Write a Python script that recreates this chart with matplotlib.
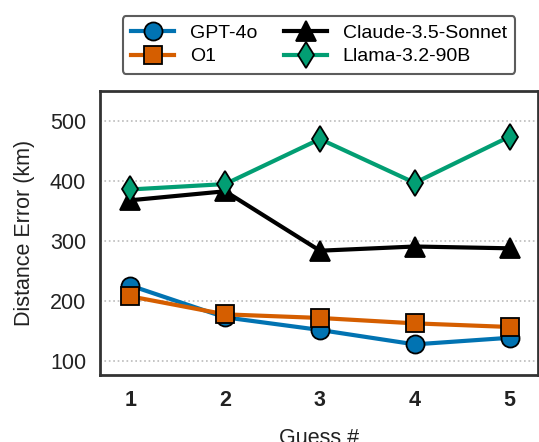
import numpy as np
import matplotlib
matplotlib.use("Agg")
import matplotlib.pyplot as plt

plt.rcParams['font.family'] = ['Liberation Sans', 'DejaVu Sans']

guesses = [1, 2, 3, 4, 5]
gpt4o = [226, 173, 152, 128, 139]
o1 = [208, 178, 172, 163, 157]
claude = [368, 383, 284, 291, 288]
llama = [386, 395, 470, 397, 474]

series = [
    ('GPT-4o', gpt4o, '#0173B2', 'o'),
    ('O1', o1, '#D55E00', 's'),
    ('Claude-3.5-Sonnet', claude, '#000000', '^'),
    ('Llama-3.2-90B', llama, '#029E73', 'd'),
]

fig = plt.figure(figsize=(5.39, 4.42), dpi=100)
ax = fig.add_axes([100/539, 1-375/442, 438/539, 284/442])

for name, vals, col, mk in series:
    ax.plot(guesses, vals, color=col, marker=mk, lw=3, ms=13 if mk != '^' else 14,
            markeredgecolor='black', markeredgewidth=1.3, label=name)

ax.set_xlim(0.68, 5.3)
ax.set_ylim(77, 550)
ax.set_xticks(guesses)
ax.set_yticks([100, 200, 300, 400, 500])
ax.tick_params(axis='both', length=0, labelsize=15.5, colors='#222222')
ax.tick_params(axis='x', pad=11)
ax.tick_params(axis='y', pad=10)
for t in ax.get_xticklabels():
    t.set_fontweight('bold')
ax.grid(axis='y', linestyle=':', color='#bbbbbb', lw=1.2)
for s in ax.spines.values():
    s.set_color('#333333')
    s.set_linewidth(2)

ax.set_xlabel('Guess #', fontsize=15.5, color='#222222', labelpad=12)
ax.set_ylabel('Distance Error (km)', fontsize=15.5, color='#222222', labelpad=11)

leg = ax.legend(ncol=2, loc='lower center', bbox_to_anchor=(0.5, 1.025), fontsize=14,
                frameon=True, edgecolor='#333333', fancybox=True, columnspacing=1.4,
                handlelength=2.2, borderpad=0.45, labelspacing=0.3)
leg.get_frame().set_linewidth(1.5)

fig.savefig('out.png', dpi=100)
